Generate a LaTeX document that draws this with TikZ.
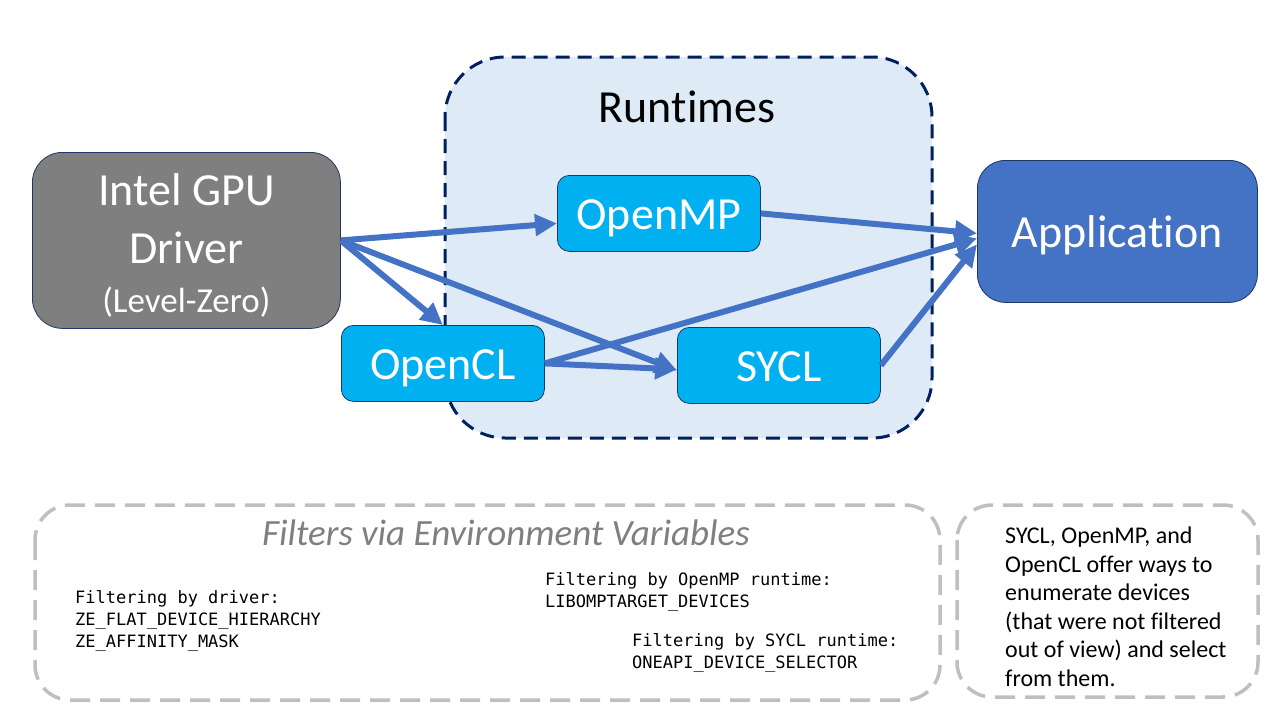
\documentclass[tikz,border=0pt]{standalone}
\usepackage{fontspec}
\setmainfont{Carlito}[Ligatures=CommonOff, Contextuals=AlternateOff]
\newfontfamily\monof{DejaVu Sans Mono}
\usetikzlibrary{arrows.meta}
\definecolor{rtfill}{HTML}{DEEBF7}
\definecolor{navy}{HTML}{002060}
\definecolor{edgeblue}{HTML}{1F3864}
\definecolor{cyanbox}{HTML}{00B0F0}
\definecolor{appblue}{HTML}{4472C4}
\definecolor{drvgray}{HTML}{7F7F7F}
\definecolor{dashgray}{HTML}{BFBFBF}
\definecolor{txtgray}{HTML}{7F7F7F}
\tikzset{
  swbox/.style={draw=edgeblue, line width=0.8pt, fill=cyanbox, rounded corners=12pt,
    text=white, minimum width=203pt, minimum height=76pt, inner sep=0pt,
    text height=37pt, text depth=5pt,
    font=\fontsize{46}{55}\selectfont, anchor=north west},
  flow/.style={draw=appblue, line width=6pt, -{Triangle[length=22pt,width=21pt]}},
  notebox/.style={draw=dashgray, line width=3.5pt, dash pattern=on 20pt off 10pt, rounded corners=35pt},
  monotext/.style={inner sep=0pt, anchor=north west, align=left, font=\monof\fontsize{17}{22}\selectfont},
}
\begin{document}
\begin{tikzpicture}[x=1pt,y=-1pt]
\useasboundingbox (0,0) rectangle (1280,720);
% Runtimes container
\draw[draw=navy, line width=3pt, dash pattern=on 14pt off 8pt, fill=rtfill, rounded corners=60pt]
  (445,57) rectangle (932,438);
\node[font=\fontsize{46}{55}\selectfont, text=black] (rttitle) at (687,107) {Runtimes};
% Driver
\node[draw=edgeblue, line width=0.8pt, fill=drvgray, rounded corners=30pt,
  minimum width=308pt, minimum height=176pt, anchor=north west, inner sep=0pt] (driver) at (32,152) {};
\node[text=white, align=center, inner sep=0pt, font=\fontsize{46}{58}\selectfont] (drvtext) at ([yshift=-5.5pt]driver.center)
  {Intel GPU\\Driver\\[-9pt]{\fontsize{35}{40}\selectfont (Level-Zero)}};
% Runtimes
\node[swbox] (openmp) at (557,175) {OpenMP};
\node[swbox] (opencl) at (341,325) {OpenCL};
\node[swbox] (sycl) at (677,327) {SYCL};
% Application
\node[draw=edgeblue, line width=0.8pt, fill=appblue, rounded corners=28pt, text=white,
  minimum width=280pt, minimum height=142pt, anchor=north west, inner sep=0pt,
  text height=37pt, text depth=4pt,
  font=\fontsize{46}{55}\selectfont] (app) at (977,160) {Application};
% Arrows
\draw[flow] (driver.east) -- ([yshift=-10pt]openmp.west);
\draw[flow] (driver.east) -- (opencl.north);
\draw[flow] (driver.east) -- ([yshift=-5pt]sycl.west);
\draw[flow] (opencl.east) -- ([yshift=-4pt]sycl.west);
\draw[flow] (openmp.east) -- ([yshift=-2pt]app.west);
\draw[flow] (opencl.east) -- ([yshift=-7pt]app.west);
\draw[flow] (sycl.east) -- ([yshift=-13pt]app.west);
% Filter box
\draw[notebox] (35,505) rectangle (940,700);
\node[font=\fontsize{37}{44}\selectfont\itshape, text=txtgray] (ftitle) at (506,533) {Filters via Environment Variables};
\node[monotext] (fdrv) at (75,590) {Filtering by driver:\\ZE\_FLAT\_DEVICE\_HIERARCHY\\ZE\_AFFINITY\_MASK};
\node[monotext] (fomp) at (545,572) {Filtering by OpenMP runtime:\\LIBOMPTARGET\_DEVICES};
\node[monotext] (fsycl) at (632,633) {Filtering by SYCL runtime:\\ONEAPI\_DEVICE\_SELECTOR};
% Note box
\draw[notebox] (957,505) rectangle (1258,697);
\node[inner sep=0pt, anchor=north west, align=left, font=\fontsize{24}{28.5}\selectfont] (note) at (1005,527)
  {SYCL, OpenMP, and\\OpenCL offer ways to\\enumerate devices\\(that were not filtered\\out of view) and select\\from them.};
\end{tikzpicture}
\end{document}
